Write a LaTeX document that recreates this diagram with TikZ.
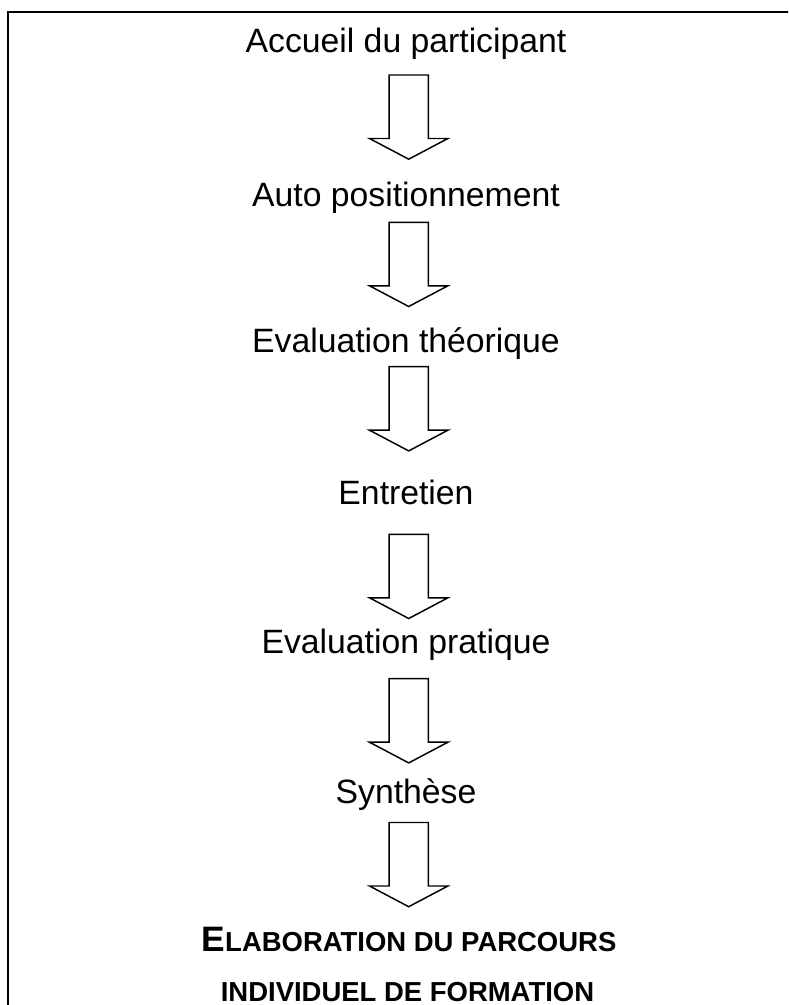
\documentclass[tikz,border=0pt]{standalone}
\usepackage{fontspec}
\setmainfont{Liberation Sans}
\usepackage{tikz}

\begin{document}
\begin{tikzpicture}[
    x=0.75pt, y=-0.75pt,
    step label/.style={
        anchor=base,
        inner sep=0pt,
        font=\fontsize{25.3}{30}\selectfont
    },
    final label/.style={
        anchor=base,
        inner sep=0pt,
        font=\fontsize{20.6}{24}\selectfont\bfseries
    },
    frame/.style={
        draw=black,
        line width=1.7pt
    },
    pics/bigarrow/.style={
        code={
            \draw[line width=1.1pt, line join=miter]
                (-19.6,0) -- (-19.6,63.5) -- (-39.2,63.5) -- (0,84.2)
                -- (39.2,63.5) -- (19.6,63.5) -- (19.6,0) -- cycle;
        }
    }
]

\useasboundingbox (0,0) rectangle (788,1005);
\clip (0,0) rectangle (788,1005);

% Frame (only top and left edges are inside the page)
\draw[frame] (8,1010) -- (8,12) -- (795,12);

% Steps
\node[step label] (accueil)    at (406,53)  {Accueil du participant};
\node[step label] (auto)       at (406,207) {Auto positionnement};
\node[step label] (theorique)  at (406,352) {Evaluation théorique};
\node[step label] (entretien)  at (406,504) {Entretien};
\node[step label] (pratique)   at (406,653) {Evaluation pratique};
\node[step label] (synthese)   at (406,803) {Synthèse};

% Final result
\node[final label] (elab)       at (409,951.5)
    {{\fontsize{26.5}{30}\selectfont E}LABORATION DU PARCOURS};
\node[final label] (individuel) at (407.5,1001) {INDIVIDUEL DE FORMATION};

% Arrows
\coordinate (arr1) at (408.7,75);
\coordinate (arr2) at (408.7,222.3);
\coordinate (arr3) at (408.7,366.7);
\coordinate (arr4) at (408.7,534.3);
\coordinate (arr5) at (408.7,678.7);
\coordinate (arr6) at (408.7,822.5);

\foreach \a in {arr1,arr2,arr3,arr4,arr5,arr6}
    \pic at (\a) {bigarrow};

\end{tikzpicture}
\end{document}
